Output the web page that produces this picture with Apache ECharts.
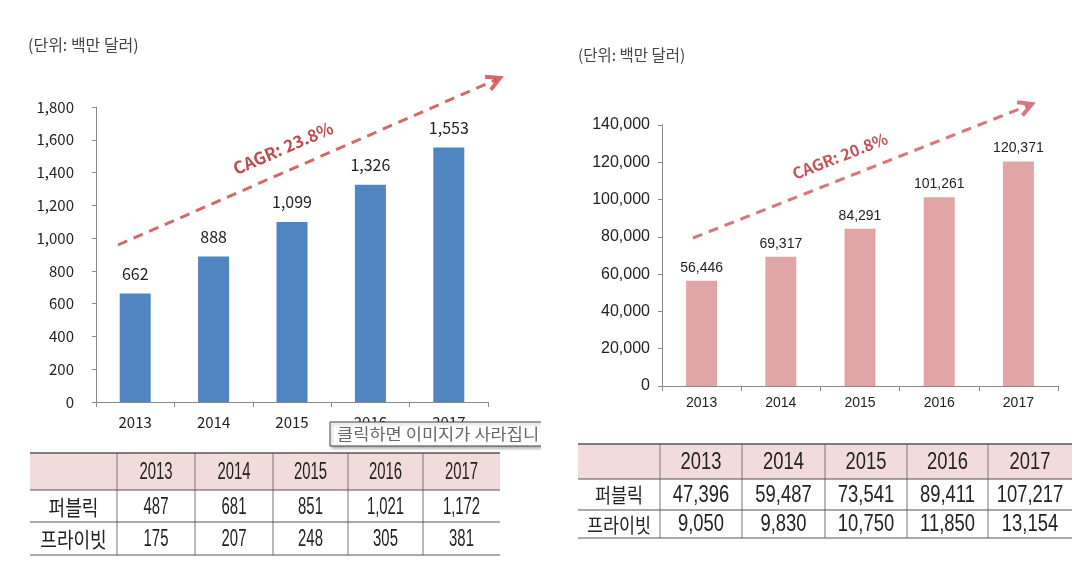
<!DOCTYPE html>
<html><head><meta charset="utf-8">
<script src="https://cdn.jsdelivr.net/npm/echarts@6/dist/echarts.min.js"></script>
<style>html,body{margin:0;padding:0;background:#fff}#c{width:1078px;height:569px}</style>
</head><body><div id="c"></div>
<script>
const years = ['2013', '2014', '2015', '2016', '2017'];
const leftTotal = [662, 888, 1099, 1326, 1553];
const leftPublic = [487, 681, 851, 1021, 1172];
const leftPrivate = [175, 207, 248, 305, 381];
const rightTotal = [56446, 69317, 84291, 101261, 120371];
const rightPublic = [47396, 59487, 73541, 89411, 107217];
const rightPrivate = [9050, 9830, 10750, 11850, 13154];
const rowNames = ['퍼블릭', '프라이빗'];
const unitText = '(단위: 백만 달러)';
const leftCagr = 'CAGR: 23.8%';
const rightCagr = 'CAGR: 20.8%';
const noteText = '클릭하면 이미지가 사라집니';

const fmt = v => Number(v).toLocaleString('en-US');
const KR = 'Noto Sans CJK KR';
const AR = 'Liberation Sans';

function arrow(x1, y1, x2, y2, color) {
  const ang = Math.atan2(y2 - y1, x2 - x1);
  const L = 15, a = 0.5;
  const p1 = [x2 - L * Math.cos(ang - a), y2 - L * Math.sin(ang - a)];
  const p2 = [x2 - L * Math.cos(ang + a), y2 - L * Math.sin(ang + a)];
  return [
    { type: 'line', shape: { x1: x1, y1: y1, x2: x2 - 4 * Math.cos(ang), y2: y2 - 4 * Math.sin(ang) },
      style: { stroke: color, lineWidth: 3, lineDash: [10, 7], opacity: 0.85 } },
    { type: 'polyline', shape: { points: [p1, [x2, y2], p2] },
      style: { stroke: color, lineWidth: 4, fill: null, opacity: 0.85, lineJoin: 'miter' } }
  ];
}

function table(t) {
  const els = [];
  const r = t.rows, c = t.cols;
  els.push({ type: 'rect', shape: { x: c[0], y: r[0], width: c[c.length - 1] - c[0], height: r[1] - r[0] },
    style: { fill: '#F2DCDB' } });
  for (let i = 1; i < c.length - 1; i++) {
    els.push({ type: 'line', shape: { x1: c[i], y1: r[0], x2: c[i], y2: r[r.length - 1] },
      style: { stroke: '#777', lineWidth: 1 } });
  }
  for (let j = 0; j < r.length; j++) {
    els.push({ type: 'line', shape: { x1: c[0], y1: r[j], x2: c[c.length - 1], y2: r[j] },
      style: { stroke: '#555', lineWidth: j === 0 ? 1.5 : 1 } });
  }
  const cell = (txt, ci, ri, isKor) => {
    els.push({ type: 'text', x: (c[ci] + c[ci + 1]) / 2, y: (r[ri] + r[ri + 1]) / 2 + 1,
      scaleX: isKor ? t.korScale : t.numScale,
      style: { text: txt, align: 'center', verticalAlign: 'middle', fill: '#222',
        font: isKor ? (t.korSize + 'px "' + KR + '"') : (t.numSize + 'px "' + AR + '"') } });
  };
  years.forEach((y, i) => cell(y, i + 1, 0, false));
  t.data.forEach((row, ri) => {
    cell(rowNames[ri], 0, ri + 1, true);
    row.forEach((v, i) => cell(fmt(v), i + 1, ri + 1, false));
  });
  return els;
}

const graphics = [].concat(
  [{ type: 'text', x: 28, y: 45, style: { text: unitText, font: '16px "' + KR + '"', fill: '#444', verticalAlign: 'middle' } },
   { type: 'text', x: 578, y: 55, style: { text: unitText, font: '15.5px "' + KR + '"', fill: '#444', verticalAlign: 'middle' } }],
  arrow(118, 245, 500, 78, '#C9504F'),
  arrow(693, 238, 1032, 104, '#CF6065'),
  [{ type: 'text', x: 283, y: 148, rotation: Math.atan2(165, 380),
     style: { text: leftCagr, font: 'bold 17px "' + KR + '"', fill: '#BE4B4D', align: 'center', verticalAlign: 'middle' } },
   { type: 'text', x: 840, y: 156, rotation: Math.atan2(133, 339),
     style: { text: rightCagr, font: 'bold 16px "' + KR + '"', fill: '#C4545A', align: 'center', verticalAlign: 'middle' } }],
  table({ cols: [30, 117, 195, 273, 348, 423, 500], rows: [453, 490, 522, 555],
          data: [leftPublic, leftPrivate], numSize: 24, numScale: 0.62, korSize: 21, korScale: 0.86 }),
  table({ cols: [578, 660, 742, 825, 907, 988, 1072], rows: [444, 479, 510, 538],
          data: [rightPublic, rightPrivate], numSize: 23, numScale: 0.8, korSize: 20, korScale: 0.87 }),
  [{ type: 'rect', z: 100, shape: { x: 330, y: 422, width: 220, height: 24 },
     style: { fill: '#fff', stroke: '#444', lineWidth: 1, shadowBlur: 3, shadowOffsetX: 2, shadowOffsetY: 2, shadowColor: 'rgba(0,0,0,0.3)' } },
   { type: 'text', z: 101, x: 337, y: 434, scaleX: 1.1, style: { text: noteText, font: '16px "' + KR + '"', fill: '#666', verticalAlign: 'middle' } },
   { type: 'rect', z: 102, shape: { x: 541, y: 418, width: 30, height: 34 }, style: { fill: '#fff' } }]
);

const axisColor = '#8a8a8a';
const option = {
  animation: false,
  backgroundColor: '#fff',
  grid: [
    { left: 96, top: 107, width: 392, height: 295 },
    { left: 662, top: 125, width: 396, height: 261 }
  ],
  xAxis: [
    { gridIndex: 0, type: 'category', data: years,
      axisLine: { lineStyle: { color: axisColor } }, axisTick: { show: true, length: 5, lineStyle: { color: axisColor } },
      axisLabel: { color: '#222', fontSize: 15, fontFamily: KR, margin: 13 } },
    { gridIndex: 1, type: 'category', data: years,
      axisLine: { lineStyle: { color: axisColor } }, axisTick: { show: true, length: 5, lineStyle: { color: axisColor } },
      axisLabel: { color: '#222', fontSize: 14, fontFamily: AR, margin: 10 } }
  ],
  yAxis: [
    { gridIndex: 0, type: 'value', min: 0, max: 1800, interval: 200,
      axisLine: { show: true, lineStyle: { color: axisColor } }, axisTick: { show: true, length: 4, lineStyle: { color: axisColor } },
      splitLine: { show: false },
      axisLabel: { color: '#222', fontSize: 15, fontFamily: KR, margin: 22, formatter: v => fmt(v) } },
    { gridIndex: 1, type: 'value', min: 0, max: 140000, interval: 20000,
      axisLine: { show: true, lineStyle: { color: axisColor } }, axisTick: { show: true, length: 4, lineStyle: { color: axisColor } },
      splitLine: { show: false },
      axisLabel: { color: '#222', fontSize: 16, fontFamily: AR, margin: 12, formatter: v => fmt(v) } }
  ],
  series: [
    { type: 'bar', xAxisIndex: 0, yAxisIndex: 0, data: leftTotal, barWidth: 31,
      itemStyle: { color: '#4F86C1' },
      label: { show: true, position: 'top', distance: 12, color: '#222', fontSize: 16, fontFamily: KR, formatter: p => fmt(p.value) } },
    { type: 'bar', xAxisIndex: 1, yAxisIndex: 1, data: rightTotal, barWidth: 31,
      itemStyle: { color: '#E0A5A4' },
      label: { show: true, position: 'top', distance: 6, color: '#222', fontSize: 14, fontFamily: AR, formatter: p => fmt(p.value) } }
  ],
  graphic: graphics
};
const chart = echarts.init(document.getElementById('c'));
chart.setOption(option);
</script>
</body></html>
